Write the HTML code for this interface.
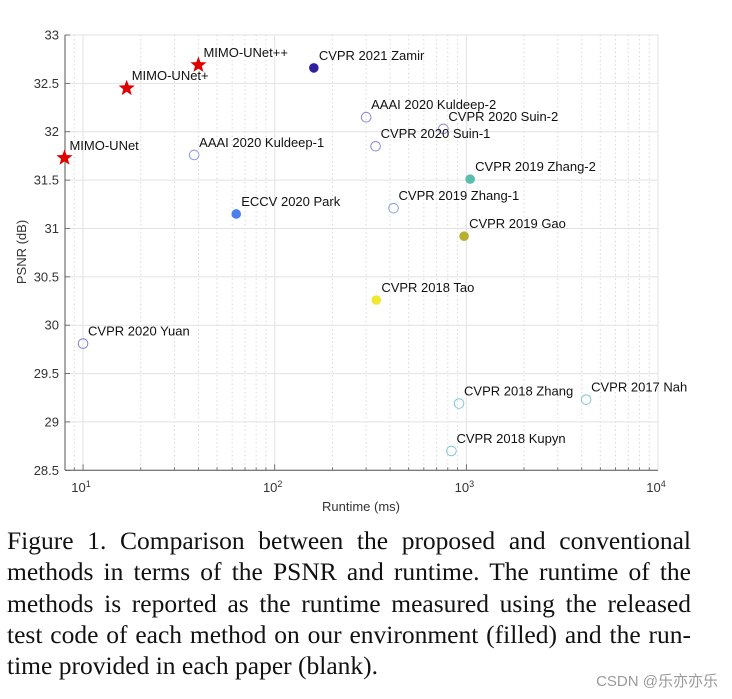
<!DOCTYPE html>
<html><head><meta charset="utf-8"><style>
body{margin:0;background:#fff;width:732px;height:699px;overflow:hidden;position:relative}
svg{position:absolute;left:0;top:0}
.cap{position:absolute;left:7px;top:525px;width:684px;font-family:"Liberation Serif",serif;font-size:25.5px;line-height:31.3px;color:#111}
.cap div{text-align:justify;text-align-last:justify;white-space:nowrap}
.cap div.last{text-align-last:left}
.wm{position:absolute;right:14px;top:670px;font-family:"Liberation Sans","Noto Sans CJK SC",sans-serif;font-size:15px;color:#9a9a9a}
</style></head><body>
<svg id="chart" width="732" height="520"></svg>
<div class="cap">
<div>Figure 1. Comparison between the proposed and conventional</div>
<div>methods in terms of the PSNR and runtime. The runtime of the</div>
<div>methods is reported as the runtime measured using the released</div>
<div>test code of each method on our environment (filled) and the run-</div>
<div class="last">time provided in each paper (blank).</div>
</div>
<div class="wm">CSDN @乐亦亦乐</div>
<script>
const names=["MIMO-UNet","MIMO-UNet+","MIMO-UNet++","CVPR 2021 Zamir","AAAI 2020 Kuldeep-1","ECCV 2020 Park","AAAI 2020 Kuldeep-2","CVPR 2020 Suin-2","CVPR 2020 Suin-1","CVPR 2019 Zhang-2","CVPR 2019 Zhang-1","CVPR 2019 Gao","CVPR 2018 Tao","CVPR 2020 Yuan","CVPR 2018 Zhang","CVPR 2017 Nah","CVPR 2018 Kupyn"];
const runtimes=[8.0,16.9,40,160,38,63,300,759,336,1047,417,973,339,10,916,4217,836];
const psnrs=[31.73,32.45,32.69,32.66,31.76,31.15,32.15,32.03,31.85,31.51,31.21,30.92,30.26,29.81,29.19,29.23,28.70];
const kinds=["star","star","star","fill","open","fill","open","open","open","fill","open","fill","fill","open","open","open","open"];
const colors=["#e00000","#e00000","#e00000","#2e1ea0","#8a9ae8","#4a7ff0","#8a8ae0","#8a8ae0","#8a8ae0","#5bbcb0","#8aa0e8","#b8b030","#f0e830","#8080d0","#80c8d8","#80c8d8","#80c8d8"];
const yTicks=[28.5,29,29.5,30,30.5,31,31.5,32,32.5,33];
const xDecades=[1,2,3,4];
const L=65,R=658,T=35,B=470.3;
const X0=Math.log10(8.05),X1=4;
function xs(v){return L+(Math.log10(v)-X0)/(X1-X0)*(R-L);}
function ys(v){return B-(v-28.5)/(33-28.5)*(B-T);}
const svg=document.getElementById('chart');const NS='http://www.w3.org/2000/svg';
function mk(t,a,p){const e=document.createElementNS(NS,t);for(const k in a)e.setAttribute(k,a[k]);(p||svg).appendChild(e);return e;}
const grid=mk('g',{});


for(let d=0;d<4;d++){for(let m=1;m<10;m++){const v=Math.pow(10,d)*m;if(v<8.05||v>10000)continue;const x=xs(v);
 if(m===1)mk('line',{x1:x,x2:x,y1:T,y2:B,stroke:'#e2e2e2','stroke-width':1},grid);
 else mk('line',{x1:x,x2:x,y1:T,y2:B,stroke:'#d0d0d0','stroke-width':1,'stroke-dasharray':'1.2,3'},grid);
 mk('line',{x1:x,x2:x,y1:B,y2:B-(m===1?6:3),stroke:'#555','stroke-width':0.8},grid);}}
mk('line',{x1:R,x2:R,y1:T,y2:B,stroke:'#e2e2e2'},grid);
yTicks.forEach(v=>{const y=ys(v);mk('line',{x1:L,x2:R,y1:y,y2:y,stroke:'#e2e2e2'},grid);mk('line',{x1:L,x2:L+5,y1:y,y2:y,stroke:'#555','stroke-width':0.8},grid);
 const t=mk('text',{x:L-6,y:y+4.5,'text-anchor':'end','font-family':'Liberation Sans, sans-serif','font-size':13,fill:'#333'});t.textContent=v;
 
 });
xDecades.forEach(d=>{const x=xs(Math.pow(10,d));const t=mk('text',{x:x-2,y:492,'text-anchor':'middle','font-family':'Liberation Sans, sans-serif','font-size':13,fill:'#333'});
 t.innerHTML='10<tspan dy="-5" font-size="9">'+d+'</tspan>';
 
 });
mk('line',{x1:L,x2:L,y1:T,y2:B,stroke:'#555','stroke-width':1});
mk('line',{x1:L,x2:R,y1:B,y2:B,stroke:'#555','stroke-width':1});
const xt=mk('text',{x:361,y:511,'text-anchor':'middle','font-family':'Liberation Sans, sans-serif','font-size':13,fill:'#333'});xt.textContent='Runtime (ms)';


const yt=mk('text',{x:0,y:0,transform:'translate(26,252) rotate(-90)','text-anchor':'middle','font-family':'Liberation Sans, sans-serif','font-size':13,fill:'#333'});yt.textContent='PSNR (dB)';


function starPts(cx,cy,r){let p=[];for(let i=0;i<10;i++){const a=-Math.PI/2+i*Math.PI/5;const rr=i%2?r*0.42:r;p.push((cx+rr*Math.cos(a)).toFixed(1)+','+(cy+rr*Math.sin(a)).toFixed(1));}return p.join(' ');}
names.forEach((n,i)=>{const x=xs(runtimes[i]),y=ys(psnrs[i]);let m;
 if(kinds[i]==='star')m=mk('polygon',{points:starPts(x,y,8.5),fill:colors[i]});
 else if(kinds[i]==='fill')m=mk('circle',{cx:x,cy:y,r:4.8,fill:colors[i]});
 else m=mk('circle',{cx:x,cy:y,r:4.8,fill:'none',stroke:colors[i],'stroke-width':1});
 
 
 const t=mk('text',{x:x+5,y:y-8,'font-family':'Liberation Sans, sans-serif','font-size':13,fill:'#111'});t.textContent=n;
 
 });
</script>
</body></html>
